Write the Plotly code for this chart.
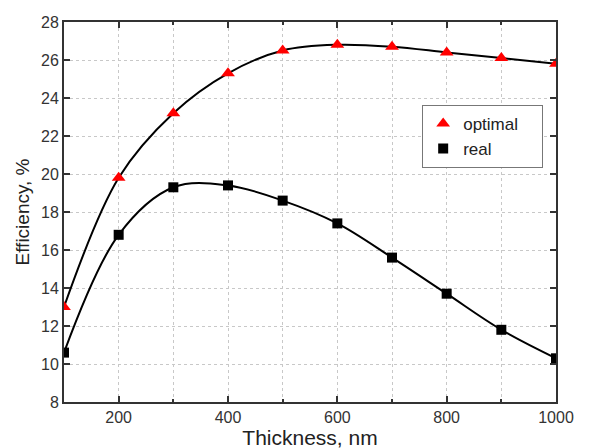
import plotly.graph_objects as go

thickness = [100, 200, 300, 400, 500, 600, 700, 800, 900, 1000]
optimal = [13.0, 19.8, 23.2, 25.3, 26.5, 26.8, 26.7, 26.4, 26.1, 25.8]
real = [10.6, 16.8, 19.3, 19.4, 18.6, 17.4, 15.6, 13.7, 11.8, 10.3]

FONT = "Liberation Sans, Arial"

fig = go.Figure()
fig.add_trace(go.Scatter(x=thickness, y=optimal, mode="lines", line=dict(color="black", width=2, shape="spline", smoothing=1.0), showlegend=False, hoverinfo="skip"))
fig.add_trace(go.Scatter(x=thickness, y=real, mode="lines", line=dict(color="black", width=2, shape="spline", smoothing=1.0), showlegend=False, hoverinfo="skip"))
fig.add_trace(go.Scatter(x=thickness, y=optimal, mode="markers", name="optimal\u00a0\u00a0\u00a0\u00a0",
                         marker=dict(symbol="triangle-up", color="red", size=12, line=dict(width=0))))
fig.add_trace(go.Scatter(x=thickness, y=real, mode="markers", name="real",
                         marker=dict(symbol="square", color="black", size=10, line=dict(width=0))))

axis_common = dict(
    showline=True, linecolor="#333333", linewidth=2, mirror="ticks",
    ticks="inside", ticklen=6, tickwidth=2, tickcolor="#333333",
    showgrid=True, gridcolor="#c8c8c8", griddash="dot", gridwidth=1,
    zeroline=False, automargin=False,
    tickfont=dict(family=FONT, size=16, color="#333333"),
)

fig.update_xaxes(
    range=[100, 1000], tickvals=[200, 400, 600, 800, 1000],
    minor=dict(tickvals=[100, 300, 500, 700, 900], ticks="inside", ticklen=3, tickcolor="#333333", tickwidth=2,
               showgrid=True, gridcolor="#c8c8c8", griddash="dot", gridwidth=1),
    title=dict(text="Thickness, nm", font=dict(family=FONT, size=21, color="#222222"), standoff=4),
    **axis_common)
fig.update_yaxes(
    range=[8, 28], tickvals=list(range(8, 29, 2)),
    title=dict(text="Efficiency, %", font=dict(family=FONT, size=19, color="#222222"), standoff=6),
    **axis_common)

fig.update_layout(
    width=601, height=448,
    margin=dict(l=56, r=53, t=14, b=54),
    paper_bgcolor="white", plot_bgcolor="white",
    legend=dict(x=0.728, y=0.782, xanchor="left", yanchor="top",
                bgcolor="white", bordercolor="#777777", borderwidth=1,
                font=dict(family=FONT, size=17, color="#222222"),
                tracegroupgap=0),
)

fig.write_html("out.html")
